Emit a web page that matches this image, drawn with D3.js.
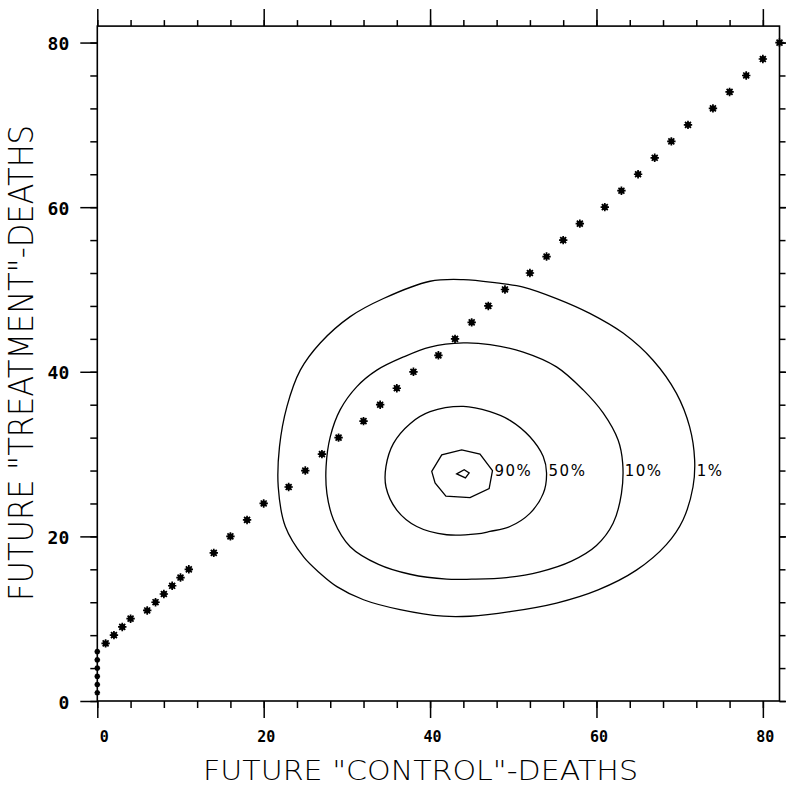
<!DOCTYPE html>
<html>
<head>
<meta charset="utf-8">
<script src="https://cdn.jsdelivr.net/npm/d3@7"></script>
<style>
  body { margin: 0; background: #fff; }
  .tick text { font-family: "DejaVu Sans Mono", monospace; fill: #000; }
  .title { font-family: "DejaVu Sans", sans-serif; font-weight: 200; fill: #000; }
  .clabel { font-family: "DejaVu Sans", sans-serif; font-size: 15px; fill: #000; }
</style>
</head>
<body>
<div id="vis"></div>
<script>
var WIDTH = 786, HEIGHT = 787;

// boundary points (control deaths, treatment deaths)
var boundary_x = [0, 0, 0, 0, 0, 0, 1, 2, 3, 4, 6, 7, 8, 9, 10, 11, 14, 16, 18, 20,
	23, 25, 27, 29, 32, 34, 36, 38, 41, 43, 45, 47, 49, 52, 54, 56, 58, 61, 63, 65,
	67, 69, 71, 74, 76, 78, 80, 82];
var boundary_y = [1, 2, 3, 4, 5, 6, 7, 8, 9, 10, 11, 12, 13, 14, 15, 16, 18, 20, 22, 24,
	26, 28, 30, 32, 34, 36, 38, 40, 42, 44, 46, 48, 50, 52, 54, 56, 58, 60, 62, 64,
	66, 68, 70, 72, 74, 76, 78, 80];

// contour lines, [x, y] in data units
var contour_1 = [[40.0,51.0],[44.0,51.2],[48.0,50.8],[51.2,50.3],[55.2,48.9],[59.2,47.1],
	[63.2,44.7],[66.8,41.4],[69.6,37.4],[71.2,33.3],[71.8,29.3],[71.6,26.0],[70.4,22.0],
	[68.4,19.0],[64.8,15.9],[60.2,13.5],[55.2,11.9],[49.6,10.85],[44.8,10.3],[41.6,10.3],
	[36.4,11.1],[32.0,12.3],[28.8,13.9],[26.8,15.5],[24.8,17.5],[22.6,21.2],[21.75,26.0],
	[21.9,30.9],[22.8,35.8],[24.4,40.2],[26.8,43.5],[30.4,46.7],[34.4,48.9]];
var contour_10 = [[40.0,43.0],[44.0,43.5],[47.2,43.3],[51.2,42.4],[55.2,40.6],[58.4,37.8],
	[60.8,35.0],[62.6,31.7],[63.15,28.9],[63.0,25.2],[62.0,21.6],[60.0,18.9],[57.0,17.0],
	[53.2,15.7],[49.2,15.0],[45.0,14.8],[42.0,14.8],[37.6,15.4],[33.8,16.6],[30.4,18.75],
	[28.4,22.0],[27.6,25.2],[27.5,28.5],[28.0,32.1],[29.2,35.4],[31.2,38.2],[33.6,40.2],
	[36.8,41.8]];
var contour_50 = [[44.0,35.8],[47.2,35.15],[49.6,34.1],[52.0,32.1],[53.6,29.7],[54.0,27.7],
	[53.6,25.2],[52.0,22.8],[49.6,21.2],[47.2,20.6],[45.6,20.3],[42.0,20.2],[38.4,21.2],
	[36.0,23.2],[34.7,26.0],[34.7,28.5],[35.6,31.3],[37.6,33.7],[40.0,35.15]];
var contour_90 = [[40.2,27.9],[41.4,29.9],[43.8,30.5],[46.0,30.0],[47.5,28.0],[47.1,25.8],
	[44.8,24.7],[41.9,24.9],[40.6,26.5]];
var contour_peak = [[43.2,27.6],[44.1,28.1],[44.7,27.7],[44.25,27.1]];

var contour_labels = ["90%", "50%", "10%", "1%"];
var label_level = 28;

var major_ticks = [0, 20, 40, 60, 80];
var minor_ticks = d3.range(0, 81, 4);

var x_title = 'FUTURE "CONTROL"-DEATHS';
var y_title = 'FUTURE "TREATMENT"-DEATHS';

var svg = d3.select("#vis").append("svg")
	.attr("width", WIDTH)
	.attr("height", HEIGHT);

var x = d3.scaleLinear().domain([0, 82]).range([97.3, 779.5]);
var y = d3.scaleLinear().domain([0, 82]).range([701, 26.1]);

function add_axis(axis, transform, size, labels) {
	var g = svg.append("g")
		.attr("transform", transform)
		.call(axis.tickSize(size).tickSizeOuter(0));
	g.select(".domain").remove();
	g.selectAll("line").attr("stroke", "#000").attr("stroke-width", 1.5);
	if (!labels) g.selectAll("text").remove();
	return g;
}

// minor ticks on all sides
add_axis(d3.axisBottom(x).tickValues(minor_ticks), "translate(0," + y(0) + ")", 7, false);
add_axis(d3.axisTop(x).tickValues(minor_ticks), "translate(0," + y(82) + ")", 6, false);
add_axis(d3.axisLeft(y).tickValues(minor_ticks), "translate(" + x(0) + ",0)", 7, false);
add_axis(d3.axisRight(y).tickValues(minor_ticks), "translate(" + x(82) + ",0)", 6, false);

// major ticks
var bx = add_axis(d3.axisBottom(x).tickValues(major_ticks), "translate(0," + y(0) + ")", 17, true);
bx.selectAll("text")
	.attr("text-anchor", "end")
	.attr("x", 11)
	.attr("y", 41)
	.attr("dy", 0)
	.style("font-size", "15px")
	.style("font-weight", "bold");
add_axis(d3.axisTop(x).tickValues(major_ticks), "translate(0," + y(82) + ")", 17, false);
var ly = add_axis(d3.axisLeft(y).tickValues(major_ticks).tickPadding(11), "translate(" + x(0) + ",0)", 17, true);
ly.selectAll("text")
	.attr("dy", "0.4em")
	.style("font-size", "18px")
	.style("font-weight", "bold");
add_axis(d3.axisRight(y).tickValues(major_ticks), "translate(" + x(82) + ",0)", 17, false);

// frame
svg.append("rect")
	.attr("x", x(0))
	.attr("y", y(82))
	.attr("width", x(82) - x(0))
	.attr("height", y(0) - y(82))
	.attr("fill", "none")
	.attr("stroke", "#000")
	.attr("stroke-width", 1.6);

// contours
var smooth = d3.line()
	.x(function(d) { return x(d[0]); })
	.y(function(d) { return y(d[1]); })
	.curve(d3.curveCatmullRomClosed);
var straight = d3.line()
	.x(function(d) { return x(d[0]); })
	.y(function(d) { return y(d[1]); })
	.curve(d3.curveLinearClosed);

var contours = [contour_90, contour_50, contour_10, contour_1];

svg.selectAll(".contour")
	.data(contours)
	.enter().append("path")
	.attr("class", "contour")
	.attr("d", function(d, i) { return i == 0 ? straight(d) : smooth(d); })
	.attr("fill", "none")
	.attr("stroke", "#000")
	.attr("stroke-width", 1.3);

svg.append("path")
	.attr("d", straight(contour_peak))
	.attr("fill", "none")
	.attr("stroke", "#000")
	.attr("stroke-width", 1.3);

svg.selectAll(".clabel")
	.data(contours)
	.enter().append("text")
	.attr("class", "clabel")
	.attr("x", function(d) { return x(d3.max(d, function(p) { return p[0]; })) + 2; })
	.attr("y", y(label_level))
	.attr("dy", "0.36em")
	.attr("letter-spacing", "1.5px")
	.text(function(d, i) { return contour_labels[i]; });

// boundary stars
var points = boundary_x.map(function(v, i) { return { x: v, y: boundary_y[i] }; });

function star(r) {
	var s = "";
	for (var k = 0; k < 4; k++) {
		var a = k * Math.PI / 4;
		var dx = r * Math.cos(a), dy = r * Math.sin(a);
		s += "M" + (-dx) + "," + (-dy) + "L" + dx + "," + dy;
	}
	return s;
}

var stars = svg.selectAll(".star")
	.data(points)
	.enter().append("g")
	.attr("class", "star")
	.attr("transform", function(d) { return "translate(" + x(d.x) + "," + y(d.y) + ")"; });

stars.append("path")
	.attr("d", function(d) { return star(d.x == 0 ? 2.8 : 4.2); })
	.attr("stroke", "#000")
	.attr("stroke-width", 1.7);
stars.append("circle")
	.attr("r", function(d) { return d.x == 0 ? 1.8 : 2.9; })
	.attr("fill", "#000");

// axis titles
svg.append("text")
	.attr("class", "title")
	.attr("x", 203)
	.attr("y", 780)
	.attr("textLength", 435)
	.attr("lengthAdjust", "spacingAndGlyphs")
	.style("font-size", "26px")
	.text(x_title);

svg.append("text")
	.attr("class", "title")
	.attr("transform", "translate(33,601) rotate(-90)")
	.attr("textLength", 476)
	.attr("lengthAdjust", "spacingAndGlyphs")
	.style("font-size", "34px")
	.text(y_title);
</script>
</body>
</html>
